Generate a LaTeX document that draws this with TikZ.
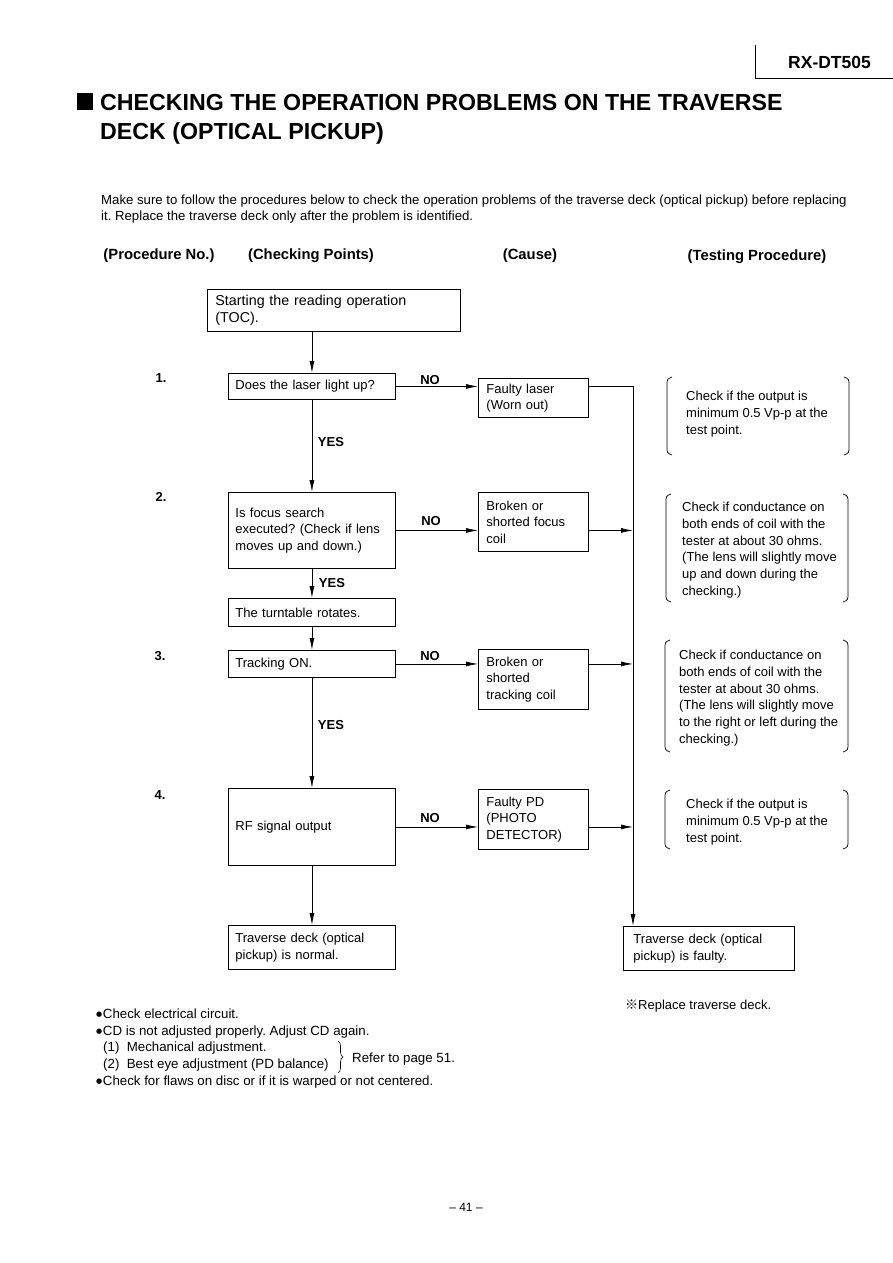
\documentclass[tikz,border=0pt]{standalone}
\usepackage{fontspec}
\setmainfont{Liberation Sans}
\newfontfamily\cjkfont{Noto Sans CJK JP}
\newfontfamily\djv{DejaVu Sans}
\usetikzlibrary{arrows.meta,decorations.pathreplacing}
\newcommand\tbrk[4]{%
 \draw[brk] ({#1+5},#3) .. controls (#1,{#3+2}) .. (#1,{#3+9}) -- (#1,{#4-9}) .. controls (#1,{#4-2}) .. ({#1+5},#4);
 \draw[brk] ({#2-5},#3) .. controls (#2,{#3+2}) .. (#2,{#3+9}) -- (#2,{#4-9}) .. controls (#2,{#4-2}) .. ({#2-5},#4);}
\newcommand\blt{\raisebox{2pt}{\djv\fontsize{7}{7}\selectfont ●}\kern0.6pt}
\frenchspacing
\begin{document}
\begin{tikzpicture}[x=1pt,y=-1pt,
  txt/.style={font=\fontsize{13}{16.7}\selectfont, inner sep=0pt, align=left},
  ftxt/.style={font=\fontsize{13.3}{16.7}\selectfont, inner sep=0pt, align=left},
  box/.style={draw, line width=0.9pt, font=\fontsize{13}{16.6}\selectfont, align=left, inner xsep=7pt, inner ysep=1pt, anchor=north west},
  lbl/.style={font=\fontsize{13}{15}\selectfont\bfseries, inner sep=0pt},
  hdr/.style={font=\fontsize{14.8}{17}\selectfont\bfseries, inner sep=0pt},
  arr/.style={line width=0.8pt, -{Latex[length=12pt,width=5pt]}},
  ln/.style={line width=0.8pt},
  brk/.style={line width=0.7pt}]
\useasboundingbox (0,0) rectangle (893,1263);
\fill[white] (0,0) rectangle (893,1263);

% header
\draw[line width=0.7pt] (755,45) -- (755,78) -- (893,78);
\node[anchor=base west, inner sep=0pt, font=\fontsize{17.5}{20}\selectfont\bfseries] (model) at (788,68) {RX-DT505};

% title
\fill (77,93) rectangle (93,110);
\node[anchor=base west, inner sep=0pt, font=\fontsize{23.2}{28}\selectfont\bfseries] (t1) at (100,110.5) {CHECKING THE OPERATION PROBLEMS ON THE TRAVERSE};
\node[anchor=base west, inner sep=0pt, font=\fontsize{23.2}{28}\selectfont\bfseries] (t2) at (100,139) {DECK (OPTICAL PICKUP)};

% intro
\node[anchor=base west, inner sep=0pt, font=\fontsize{13.2}{15}\selectfont] (i1) at (101,204) {Make sure to follow the procedures below to check the operation problems of the traverse deck (optical pickup) before replacing};
\node[anchor=base west, inner sep=0pt, font=\fontsize{13.2}{15}\selectfont] (i2) at (101,220) {it. Replace the traverse deck only after the problem is identified.};

% column headers
\node[hdr, anchor=base] (h1) at (159,259) {(Procedure No.)};
\node[hdr, anchor=base] (h2) at (311,259) {(Checking Points)};
\node[hdr, anchor=base] (h3) at (530,259) {(Cause)};
\node[hdr, anchor=base] (h4) at (757,260) {(Testing Procedure)};

% numbers
\node[lbl] (n1) at (161,378) {1.};
\node[lbl] (n2) at (161,497) {2.};
\node[lbl] (n3) at (160,656) {3.};
\node[lbl] (n4) at (160,795) {4.};

% boxes
\node[box, font=\fontsize{14.3}{16.5}\selectfont, inner xsep=8pt, text width=237pt, minimum width=253pt, minimum height=42pt] (s) at (207,289) {Starting the reading operation\\(TOC).};
\node[box, text width=153pt, minimum width=167pt, minimum height=26pt] (b1) at (228,373) {Does the laser light up?};
\node[box, text width=153pt, minimum width=167pt, minimum height=76pt] (b2) at (228,492) {Is focus search\\executed? (Check if lens\\moves up and down.)};
\node[box, text width=153pt, minimum width=167pt, minimum height=28pt] (tt) at (228,598) {The turntable rotates.};
\node[box, text width=153pt, minimum width=167pt, minimum height=27pt] (tr) at (228,650) {Tracking ON.};
\node[box, text width=153pt, minimum width=167pt, minimum height=77pt] (rf) at (228,788) {RF signal output};
\node[box, text width=153pt, minimum width=167pt, minimum height=44pt] (nm) at (228,925) {Traverse deck (optical\\pickup) is normal.};

\node[box, inner xsep=8pt, text width=94pt, minimum width=110pt, minimum height=39pt] (fl) at (478,378) {Faulty laser\\(Worn out)};
\node[box, inner xsep=8pt, text width=94pt, minimum width=110pt, minimum height=59pt] (fc) at (478,492) {Broken or\\shorted focus\\coil};
\node[box, inner xsep=8pt, text width=94pt, minimum width=110pt, minimum height=60pt] (tc) at (478,649) {Broken or\\shorted\\tracking coil};
\node[box, inner xsep=8pt, text width=94pt, minimum width=110pt, minimum height=60pt] (pd) at (478,789) {Faulty PD\\(PHOTO\\DETECTOR)};

\node[box, inner xsep=10pt, text width=151pt, minimum width=171pt, minimum height=44pt] (fault) at (623,926) {Traverse deck (optical\\pickup) is faulty.};

\coordinate (busx) at (633,0);

% vertical flow
\draw[arr] (s.south -| b1.north) -- (b1.north);
\draw[arr] (b1.south) -- (b2.north);
\draw[arr] (b2.south) -- (tt.north);
\draw[arr] (tt.south) -- (tr.north);
\draw[arr] (tr.south) -- (rf.north);
\draw[arr] (rf.south) -- (nm.north);

% NO arrows
\draw[arr] (b1.east) -- (b1.east -| fl.west);
\draw[arr] (b2.east) -- (b2.east -| fc.west);
\draw[arr] (tr.east) -- (tr.east -| tc.west);
\draw[arr] (rf.east) -- (rf.east -| pd.west);

% to bus
\draw[ln] (b1.east -| fl.east) -- (b1.east -| busx);
\draw[arr] (b2.east -| fc.east) -- (b2.east -| busx);
\draw[arr] (tr.east -| tc.east) -- (tr.east -| busx);
\draw[arr] (rf.east -| pd.east) -- (rf.east -| busx);
\draw[arr] (b1.east -| busx) -- (busx |- fault.north);

% labels
\node[lbl] (no1) at (430,380) {NO};
\node[lbl] (no2) at (431,521) {NO};
\node[lbl] (no3) at (430,656) {NO};
\node[lbl] (no4) at (430,818) {NO};
\node[lbl] (y1) at (331,442) {YES};
\node[lbl] (y2) at (332,583) {YES};
\node[lbl] (y3) at (331,725) {YES};

% testing procedures
\tbrk{667}{849}{377}{455}
\tbrk{666}{848}{494}{602}
\tbrk{665}{848}{640}{752}
\tbrk{665}{848}{790}{849}
\node[txt, anchor=north west] (p1) at (686,391) {Check if the output is\\minimum 0.5 Vp-p at the\\test point.};
\node[txt, anchor=north west] (p2) at (682,502) {Check if conductance on\\both ends of coil with the\\tester at about 30 ohms.\\(The lens will slightly move\\up and down during the\\checking.)};
\node[txt, anchor=north west] (p3) at (679,650) {Check if conductance on\\both ends of coil with the\\tester at about 30 ohms.\\(The lens will slightly move\\to the right or left during the\\checking.)};
\node[txt, anchor=north west] (p4) at (686,799) {Check if the output is\\minimum 0.5 Vp-p at the\\test point.};

\node[txt, anchor=base west] (rep) at (625,1009) {{\cjkfont ※}Replace traverse deck.};

% footnotes
\node[ftxt, anchor=base west] (f1) at (96,1018) {\blt Check electrical circuit.};
\node[ftxt, anchor=base west] (f2) at (96,1035) {\blt CD is not adjusted properly. Adjust CD again.};
\node[ftxt, anchor=base west] (f3) at (103,1051) {(1)\ \ Mechanical adjustment.};
\node[ftxt, anchor=base west] (f4) at (103,1068) {(2)\ \ Best eye adjustment (PD balance)};
\draw[line width=0.6pt, decorate, decoration={brace, amplitude=5pt}] (338,1041) -- (338,1073);
\node[ftxt, anchor=base west] (f5) at (352,1062) {Refer to page 51.};
\node[ftxt, anchor=base west] (f6) at (96,1085) {\blt Check for flaws on disc or if it is warped or not centered.};

\node[anchor=base, inner sep=0pt, font=\fontsize{12}{14}\selectfont] (pg) at (466,1211) {-- 41 --};
\end{tikzpicture}
\end{document}
